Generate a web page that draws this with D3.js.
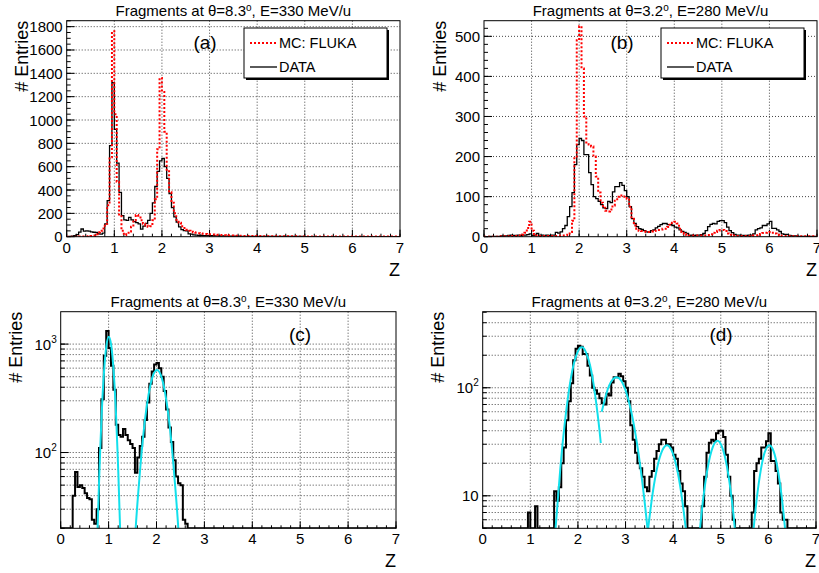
<!DOCTYPE html>
<html lang="en">
<head>
    <meta charset="utf-8">
    <title>Fragment charge distributions</title>
    <script src="https://d3js.org/d3.v7.min.js"></script>
    <style>
        body { margin: 0; background: #fff; }
        svg text { font-family: "Liberation Sans", Arial, Helvetica, sans-serif; fill: #000; }
    </style>
</head>
<body>
<script>
    // ---- Data ----
    // Every histogram has 140 bins of width 0.05 in Z, from 0 to 7
    const binWidth = 0.05;
    const zTicks = [0, 1, 2, 3, 4, 5, 6, 7];

    // theta = 8.3 deg, E = 330 MeV/u : measured data (a, c)
    const dataA = [
        0, 2, 5, 10, 18, 40, 66, 48, 50, 47,
        42, 38, 37, 24, 22, 30, 110, 310, 780, 1320,
        920, 630, 380, 180, 145, 140, 165, 145, 130, 120,
        110, 65, 90, 115, 140, 200, 290, 430, 560, 650,
        670, 600, 500, 370, 250, 170, 125, 85, 60, 52,
        50, 24, 22, 16, 14, 12, 11, 10, 10, 9,
        8, 8, 7, 7, 6, 6, 5, 5, 5, 4,
        4, 4, 4, 3, 3, 3, 3, 3, 3, 3,
        2, 2, 2, 2, 2, 2, 2, 2, 2, 2,
        2, 2, 2, 2, 2, 2, 2, 2, 2, 2,
        1, 1, 1, 1, 1, 1, 1, 1, 1, 1,
        1, 1, 1, 1, 1, 1, 1, 1, 1, 1,
        1, 1, 1, 1, 1, 1, 1, 1, 1, 1,
        1, 1, 1, 1, 1, 1, 1, 1, 1, 1
    ];
    // theta = 8.3 deg : FLUKA simulation (a)
    const mcA = [
        0, 0, 0, 0, 0, 1, 1, 2, 2, 3,
        5, 10, 22, 38, 52, 70, 110, 270, 680, 1760,
        1050, 470, 190, 50, 15, 20, 45, 85, 140, 185,
        180, 140, 110, 95, 85, 90, 140, 320, 750, 1360,
        1240, 900, 560, 380, 290, 200, 145, 120, 90, 75,
        60, 50, 43, 38, 34, 30, 28, 25, 23, 22,
        20, 19, 18, 16, 15, 14, 13, 12, 11, 10,
        9, 9, 8, 8, 7, 7, 6, 6, 5, 5,
        5, 5, 4, 4, 4, 4, 4, 3, 3, 3,
        3, 3, 3, 3, 3, 3, 3, 2, 2, 2,
        2, 2, 2, 2, 2, 2, 2, 2, 2, 2,
        2, 2, 2, 2, 2, 2, 2, 2, 2, 2,
        2, 2, 2, 2, 2, 2, 2, 2, 2, 2,
        2, 2, 2, 2, 2, 2, 2, 2, 2, 2
    ];
    // theta = 3.2 deg, E = 280 MeV/u : measured data (b, d)
    const dataB = [
        0, 0, 1, 1, 1, 1, 1, 2, 2, 2,
        3, 4, 3, 3, 4, 3, 4, 4, 5, 7,
        3, 4, 8, 3, 4, 3, 4, 3, 4, 4,
        11, 9, 12, 20, 28, 50, 75, 110, 180, 230,
        245, 240, 205, 205, 160, 130, 100, 95, 88, 80,
        72, 70, 88, 85, 112, 125, 125, 135, 128, 115,
        100, 75, 45, 33, 25, 20, 18, 15, 12, 11,
        15, 17, 22, 26, 30, 33, 33, 30, 30, 28,
        24, 22, 17, 13, 11, 8, 3, 4, 3, 4,
        4, 5, 8, 15, 25, 31, 33, 32, 38, 40,
        40, 35, 24, 15, 10, 6, 4, 4, 3, 3,
        3, 4, 4, 7, 17, 20, 22, 28, 28, 32,
        38, 21, 21, 17, 13, 7, 6, 6, 3, 2,
        2, 2, 1, 1, 1, 1, 1, 1, 1, 1
    ];
    // theta = 3.2 deg : FLUKA simulation (b)
    const mcB = [
        0, 0, 0, 0, 0, 0, 0, 1, 1, 1,
        1, 2, 2, 2, 3, 3, 5, 10, 22, 37,
        15, 6, 3, 2, 2, 2, 2, 2, 2, 2,
        2, 2, 3, 3, 3, 5, 12, 40, 200, 490,
        525, 420, 300, 235, 230, 225, 200, 150, 110, 85,
        72, 65, 63, 68, 78, 90, 100, 103, 103, 100,
        95, 75, 45, 28, 20, 15, 14, 13, 12, 12,
        13, 14, 15, 17, 18, 20, 20, 24, 30, 35,
        37, 33, 20, 12, 7, 4, 3, 3, 3, 3,
        3, 3, 3, 3, 4, 6, 10, 12, 15, 17,
        17, 14, 8, 5, 3, 3, 2, 2, 2, 2,
        2, 2, 2, 3, 3, 4, 7, 9, 10, 11,
        12, 10, 8, 5, 3, 2, 2, 2, 2, 2,
        1, 1, 1, 1, 1, 1, 1, 1, 1, 1
    ];

    // Gaussian fits, [Z, entries]
    const fitC = [
        [[0.77, 20], [0.805, 61], [0.855, 223], [0.905, 560], [0.955, 973], [1.005, 1170],
         [1.055, 973], [1.105, 560], [1.155, 223], [1.205, 61], [1.24, 20]],
        [[1.565, 20], [1.61, 38], [1.71, 125], [1.81, 293], [1.91, 488], [2.01, 578],
         [2.11, 488], [2.21, 293], [2.31, 125], [2.41, 38], [2.455, 20]]
    ];
    const fitD = [
        [[1.53, 5], [1.63, 17.9], [1.73, 49.7], [1.83, 107], [1.93, 178], [2.03, 230], [2.08, 237],
         [2.13, 230], [2.23, 178], [2.33, 107], [2.43, 49.7], [2.48, 30.8]],
        [[2.50, 60], [2.61, 92], [2.71, 116], [2.81, 125], [2.91, 116], [3.01, 92],
         [3.11, 63], [3.21, 37], [3.31, 18.7], [3.41, 8.1], [3.46, 5]],
        [[3.475, 5], [3.57, 10.6], [3.67, 18.7], [3.77, 26.2], [3.87, 29.4], [3.97, 26.2],
         [4.07, 18.7], [4.17, 10.6], [4.265, 5]],
        [[4.565, 5], [4.63, 9.3], [4.73, 18.6], [4.83, 28.1], [4.93, 32.3], [5.03, 28.1],
         [5.13, 18.6], [5.23, 9.3], [5.295, 5]],
        [[5.69, 5], [5.77, 10.6], [5.87, 20.4], [5.95, 27.1], [6.02, 29.4], [6.09, 27.1],
         [6.17, 20.4], [6.27, 10.6], [6.35, 5]]
    ];

    // y tick labels of each panel
    const yTicksA = [0, 200, 400, 600, 800, 1000, 1200, 1400, 1600, 1800];
    const yTicksB = [0, 100, 200, 300, 400, 500];
    const yTicksC = [100, 1000];
    const yTicksD = [10, 100];
    const legendLabels = ["MC: FLUKA", "DATA"];

    // ---- Layout ----
    const W = 819, H = 573;
    const svg = d3.select("body").append("svg")
        .attr("width", W)
        .attr("height", H);

    const panels = [
        { id: "a", angle: "8.3", energy: "330", left: 66.7, right: 400, top: 20.7, bottom: 236.7,
          log: false, yDomain: [0, 1851], yTicks: yTicksA, yMinorStep: 50,
          data: dataA, mc: mcA, legend: true, tag: [205, 49] },
        { id: "b", angle: "3.2", energy: "280", left: 484, right: 817, top: 20.7, bottom: 236.7,
          log: false, yDomain: [0, 539], yTicks: yTicksB, yMinorStep: 20,
          data: dataB, mc: mcB, legend: true, tag: [622, 49] },
        { id: "c", angle: "8.3", energy: "330", left: 60.7, right: 396, top: 311.7, bottom: 528.3,
          log: true, yDomain: [20, 1990], yTicks: yTicksC,
          data: dataA, fits: fitC, tag: [300, 341] },
        { id: "d", angle: "3.2", energy: "280", left: 482.7, right: 816, top: 311.7, bottom: 528.3,
          log: true, yDomain: [5, 506], yTicks: yTicksD,
          data: dataB, fits: fitD, tag: [721, 341] }
    ];

    // step outline of a histogram, values under the axis minimum sit on the bottom
    function histPath(values, x, y, yMin) {
        const pts = values.map((v, i) => [i * binWidth, v]);
        pts.push([values.length * binWidth, values[values.length - 1]]);
        return d3.line()
            .x(d => x(d[0]))
            .y(d => y(Math.max(d[1], yMin)))
            .curve(d3.curveStepAfter)(pts);
    }

    function logTicks(domain) {
        const out = [];
        for (let e = Math.floor(Math.log10(domain[0])); e <= Math.ceil(Math.log10(domain[1])); e++) {
            for (let m = 1; m < 10; m++) {
                const v = m * Math.pow(10, e);
                if (v >= domain[0] && v <= domain[1]) out.push(v);
            }
        }
        return out;
    }

    function drawPanel(p) {
        const x = d3.scaleLinear().domain([0, 7]).range([p.left, p.right]);
        const y = (p.log ? d3.scaleLog() : d3.scaleLinear())
            .domain(p.yDomain)
            .range([p.bottom, p.top]);
        const g = svg.append("g");

        g.append("clipPath").attr("id", "clip-" + p.id)
            .append("rect")
            .attr("x", p.left).attr("y", p.top)
            .attr("width", p.right - p.left).attr("height", p.bottom - p.top);

        // minor ticks (and log grid)
        const yMinor = p.log ? logTicks(p.yDomain)
                             : d3.range(0, p.yDomain[1], p.yMinorStep);
        const yGrid = p.log ? yMinor : p.yTicks;

        // dotted grid
        g.selectAll(".gx").data(zTicks.slice(1, -1)).join("line")
            .attr("x1", d => x(d)).attr("x2", d => x(d))
            .attr("y1", p.top).attr("y2", p.bottom)
            .attr("stroke", "#444").attr("stroke-width", 1).attr("stroke-dasharray", "1,2");
        g.selectAll(".gy").data(yGrid.filter(v => y(v) < p.bottom - 1 && y(v) > p.top + 1)).join("line")
            .attr("x1", p.left).attr("x2", p.right)
            .attr("y1", d => y(d)).attr("y2", d => y(d))
            .attr("stroke", "#444").attr("stroke-width", 1).attr("stroke-dasharray", "1,2");

        // ticks point inwards like ROOT
        g.selectAll(".ym").data(yMinor).join("line")
            .attr("x1", p.left).attr("x2", p.left + 4)
            .attr("y1", d => y(d)).attr("y2", d => y(d))
            .attr("stroke", "#000");
        g.selectAll(".yM").data(p.yTicks).join("line")
            .attr("x1", p.left).attr("x2", p.left + 8)
            .attr("y1", d => y(d)).attr("y2", d => y(d))
            .attr("stroke", "#000");
        g.selectAll(".xm").data(d3.range(0, 7.01, 0.2)).join("line")
            .attr("x1", d => x(d)).attr("x2", d => x(d))
            .attr("y1", p.bottom).attr("y2", p.bottom - 3)
            .attr("stroke", "#000");
        g.selectAll(".xM").data(zTicks).join("line")
            .attr("x1", d => x(d)).attr("x2", d => x(d))
            .attr("y1", p.bottom).attr("y2", p.bottom - 7)
            .attr("stroke", "#000");

        // histograms
        const plot = g.append("g").attr("clip-path", "url(#clip-" + p.id + ")");
        const yMin = p.yDomain[0];
        plot.append("path")
            .attr("d", histPath(p.data, x, y, yMin))
            .attr("fill", "none")
            .attr("stroke", "#000")
            .attr("stroke-width", p.log ? 2 : 1.3);
        if (p.mc) {
            plot.append("path")
                .attr("d", histPath(p.mc, x, y, yMin))
                .attr("fill", "none")
                .attr("stroke", "#ff0000")
                .attr("stroke-width", 2)
                .attr("stroke-dasharray", "2,2");
        }
        if (p.fits) {
            const fitLine = d3.line()
                .x(d => x(d[0]))
                .y(d => y(d[1]))
                .curve(d3.curveNatural);
            plot.selectAll(".fit").data(p.fits).join("path")
                .attr("d", fitLine)
                .attr("fill", "none")
                .attr("stroke", "#12e0ec")
                .attr("stroke-width", 2);
        }

        // frame
        g.append("rect")
            .attr("x", p.left).attr("y", p.top)
            .attr("width", p.right - p.left).attr("height", p.bottom - p.top)
            .attr("fill", "none").attr("stroke", "#000");

        // tick labels
        g.selectAll(".xl").data(zTicks).join("text")
            .attr("x", d => x(d)).attr("y", p.bottom + 16)
            .attr("text-anchor", "middle")
            .attr("font-size", 15)
            .text(d => d);
        const yl = g.selectAll(".yl").data(p.yTicks).join("text")
            .attr("x", p.left - 4).attr("y", d => y(d) + 5.5)
            .attr("text-anchor", "end")
            .attr("font-size", 15);
        if (p.log) {
            yl.each(function (d) {
                const e = Math.round(Math.log10(d));
                const t = d3.select(this);
                t.append("tspan").text("10");
                if (e !== 1) {
                    t.append("tspan").attr("dy", -7).attr("font-size", 10).text(e);
                }
            });
        } else {
            yl.text(d => d);
        }

        // axis titles
        g.append("text")
            .attr("transform", `translate(${p.left - 38.5},${p.top}) rotate(-90)`)
            .attr("text-anchor", "end")
            .attr("font-size", 18)
            .text("# Entries");
        g.append("text")
            .attr("x", p.right).attr("y", p.bottom + 39)
            .attr("text-anchor", "end")
            .attr("font-size", 18)
            .text("Z");

        // title
        const title = g.append("text")
            .attr("x", (p.left + p.right) / 2).attr("y", p.top - 4.5)
            .attr("text-anchor", "middle")
            .attr("font-size", 15);
        title.append("tspan").text("Fragments at \u03b8=" + p.angle);
        title.append("tspan").attr("dy", -5).attr("font-size", 10).text("o");
        title.append("tspan").attr("dy", 5).text(", E=" + p.energy + " MeV/u");

        // panel tag
        g.append("text")
            .attr("x", p.tag[0]).attr("y", p.tag[1])
            .attr("text-anchor", "middle")
            .attr("font-size", 19)
            .text("(" + p.id + ")");

        // legend with ROOT shadow
        if (p.legend) {
            const lx = p.right - 156, ly = 28, lw = 143, lh = 50;
            g.append("rect").attr("x", lx + 2).attr("y", ly + 2)
                .attr("width", lw).attr("height", lh).attr("fill", "#000");
            g.append("rect").attr("x", lx).attr("y", ly)
                .attr("width", lw).attr("height", lh)
                .attr("fill", "#fff").attr("stroke", "#000");
            const rows = g.selectAll(".lg").data(legendLabels).join("g")
                .attr("transform", (d, i) => `translate(${lx},${ly + 15 + i * 24})`);
            rows.append("line")
                .attr("x1", 6).attr("x2", 33)
                .attr("stroke", (d, i) => i === 0 ? "#ff0000" : "#000")
                .attr("stroke-width", (d, i) => i === 0 ? 2 : 1.3)
                .attr("stroke-dasharray", (d, i) => i === 0 ? "2,2" : null);
            rows.append("text")
                .attr("x", 35).attr("y", 5.3)
                .attr("font-size", 14.5)
                .text(d => d);
        }
    }

    panels.forEach(drawPanel);
</script>
</body>
</html>
